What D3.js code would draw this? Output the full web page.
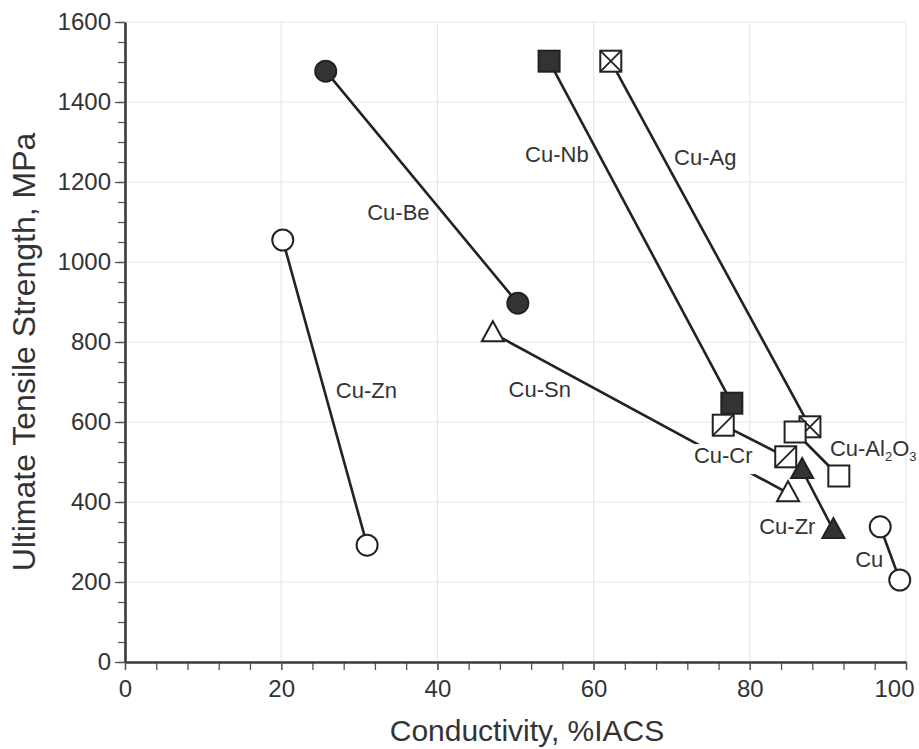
<!DOCTYPE html>
<html>
<head>
<meta charset="utf-8">
<script src="https://cdn.jsdelivr.net/npm/d3@7"></script>
<style>
	body { margin: 0; background: #fff; }
	text { font-family: "Liberation Sans", Arial, sans-serif; fill: #333; }
</style>
</head>
<body>
<div id="wrapper"></div>
<script>
// values
const alloys = ["Cu-Zn", "Cu-Be", "Cu-Sn", "Cu-Nb", "Cu-Ag", "Cu-Cr", "Cu-Al2O3", "Cu-Zr", "Cu"];
const conductivity = [[20.2, 31.0], [25.7, 50.3], [47.1, 84.9], [54.3, 77.7], [62.2, 87.7], [76.6, 84.6], [85.8, 91.4], [86.7, 90.7], [96.7, 99.2]];
const strength = [[1055, 292], [1477, 897], [822, 422], [1502, 647], [1502, 588], [592, 513], [575, 465], [480, 330], [338, 205]];
const xTicks = [0, 20, 40, 60, 80, 100];
const yTicks = [0, 200, 400, 600, 800, 1000, 1200, 1400, 1600];

// marker style and label anchor (data units) per alloy
const markerOf = {
	"Cu-Zn": "circleOpen", "Cu-Be": "circleFilled", "Cu-Sn": "triOpen",
	"Cu-Nb": "squareFilled", "Cu-Ag": "squareCross", "Cu-Cr": "squareSlash",
	"Cu-Al2O3": "squareOpen", "Cu-Zr": "triFilled", "Cu": "circleOpen"
};
const labelAt = {
	"Cu-Zn": [30.9, 680], "Cu-Be": [35.0, 1125], "Cu-Sn": [53.1, 683],
	"Cu-Nb": [55.3, 1270], "Cu-Ag": [74.3, 1262], "Cu-Cr": [76.6, 517],
	"Cu-Al2O3": [95.8, 536], "Cu-Zr": [84.8, 340], "Cu": [95.3, 258]
};

let dimensions = {
	width: 919,
	height: 749,
	margin: { top: 22, right: 13, bottom: 87, left: 125 }
};
dimensions.boundedWidth = dimensions.width - dimensions.margin.left - dimensions.margin.right;
dimensions.boundedHeight = dimensions.height - dimensions.margin.top - dimensions.margin.bottom;

const svg = d3.select("#wrapper").append("svg")
	.attr("width", dimensions.width)
	.attr("height", dimensions.height);

const bounds = svg.append("g")
	.attr("transform", `translate(${dimensions.margin.left},${dimensions.margin.top})`);

const xScale = d3.scaleLinear().domain([0, 100]).range([0, dimensions.boundedWidth]);
const yScale = d3.scaleLinear().domain([0, 1600]).range([dimensions.boundedHeight, 0]);

// grid
bounds.append("g").selectAll("line").data(xTicks.slice(1)).join("line")
	.attr("x1", d => xScale(d)).attr("x2", d => xScale(d))
	.attr("y1", 0).attr("y2", dimensions.boundedHeight)
	.attr("stroke", "#e6e6e6").attr("stroke-width", 1.2);
bounds.append("g").selectAll("line").data(yTicks.slice(1)).join("line")
	.attr("y1", d => yScale(d)).attr("y2", d => yScale(d))
	.attr("x1", 0).attr("x2", dimensions.boundedWidth)
	.attr("stroke", "#e6e6e6").attr("stroke-width", 1.2);

// axes: minor ticks, then major ticks with labels
const xMinor = d3.range(0, 101, 4);
const yMinor = d3.range(0, 1601, 50);

bounds.append("g")
	.attr("transform", `translate(0,${dimensions.boundedHeight})`)
	.call(d3.axisBottom(xScale).tickValues(xMinor).tickSize(8).tickFormat(""))
	.call(g => g.select(".domain").remove())
	.selectAll("line").attr("stroke", "#555").attr("stroke-width", 1.3);
bounds.append("g")
	.call(d3.axisLeft(yScale).tickValues(yMinor).tickSize(7).tickFormat(""))
	.call(g => g.select(".domain").remove())
	.selectAll("line").attr("stroke", "#555").attr("stroke-width", 1.3);

const xAxis = bounds.append("g")
	.attr("transform", `translate(0,${dimensions.boundedHeight})`)
	.call(d3.axisBottom(xScale).tickValues(xTicks).tickFormat(d3.format("d")).tickSize(8).tickSizeOuter(0).tickPadding(10));
const yAxis = bounds.append("g")
	.call(d3.axisLeft(yScale).tickValues(yTicks).tickFormat(d3.format("d")).tickSize(10).tickSizeOuter(0).tickPadding(4));

[xAxis, yAxis].forEach(ax => {
	ax.select(".domain").attr("stroke", "#3a3a3a").attr("stroke-width", 2.6);
	ax.selectAll(".tick line").attr("stroke", "#555").attr("stroke-width", 1.3);
	ax.selectAll(".tick text").attr("font-size", 24).attr("font-family", "Liberation Sans, Arial, sans-serif").attr("fill", "#333");
});
// last x label is pulled inside the window, as in the original
xAxis.selectAll(".tick text").filter(d => d === 100)
	.attr("text-anchor", "end").attr("x", 8);

// axis titles
svg.append("text")
	.attr("x", 527).attr("y", 741)
	.attr("text-anchor", "middle")
	.attr("font-size", 30)
	.text("Conductivity, %IACS");
svg.append("text")
	.attr("transform", "translate(35,352) rotate(-90)")
	.attr("text-anchor", "middle")
	.attr("font-size", 32)
	.text("Ultimate Tensile Strength, MPa");

// connecting lines
const lineGenerator = d3.line()
	.x(d => xScale(d[0]))
	.y(d => yScale(d[1]));

const series = alloys.map((name, i) => ({
	name: name,
	points: conductivity[i].map((c, j) => [c, strength[i][j]])
}));

bounds.append("g").selectAll("path").data(series).join("path")
	.attr("d", d => lineGenerator(d.points))
	.attr("fill", "none")
	.attr("stroke", "#222")
	.attr("stroke-width", 2.6);

// labels; Cu-Cr sits on the Cu-Sn line and gets a white box
const labels = bounds.append("g").selectAll("g").data(series).join("g")
	.attr("transform", d => `translate(${xScale(labelAt[d.name][0])},${yScale(labelAt[d.name][1])})`);

labels.each(function(d) {
	const g = d3.select(this);
	const t = g.append("text")
		.attr("text-anchor", "middle")
		.attr("dy", "0.36em")
		.attr("font-size", 22);
	if (d.name === "Cu-Al2O3") {
		t.append("tspan").text("Cu-Al");
		t.append("tspan").attr("font-size", 13).attr("dy", 5).text("2");
		t.append("tspan").attr("font-size", 22).attr("dy", -5).text("O");
		t.append("tspan").attr("font-size", 13).attr("dy", 5).text("3");
	} else {
		t.text(d.name);
	}
	if (d.name === "Cu-Cr") {
		const b = t.node().getBBox();
		g.insert("rect", "text")
			.attr("x", b.x - 2).attr("y", b.y + 1)
			.attr("width", b.width + 4).attr("height", b.height + 5)
			.attr("fill", "#fff");
	}
});

// markers
const dark = "#333";
function drawMarker(g, type) {
	const s = 10.5;
	if (type.startsWith("circle")) {
		g.append("circle").attr("r", 10.5)
			.attr("fill", type === "circleFilled" ? dark : "#fff")
			.attr("stroke", "#222").attr("stroke-width", 2);
	} else if (type.startsWith("square")) {
		g.append("rect").attr("x", -s).attr("y", -s).attr("width", 2 * s).attr("height", 2 * s)
			.attr("fill", type === "squareFilled" ? dark : "#fff")
			.attr("stroke", "#222").attr("stroke-width", 2);
		if (type === "squareCross") {
			g.append("path").attr("d", `M${-s},${-s}L${s},${s}M${s},${-s}L${-s},${s}`)
				.attr("stroke", "#222").attr("stroke-width", 1.8);
		}
		if (type === "squareSlash") {
			g.append("path").attr("d", `M${-s},${s}L${s},${-s}`)
				.attr("stroke", "#222").attr("stroke-width", 1.8);
		}
	} else {
		const w = 22, h = 20;
		g.append("path").attr("d", `M0,${-h * 0.6}L${w / 2},${h * 0.4}L${-w / 2},${h * 0.4}Z`)
			.attr("fill", type === "triFilled" ? dark : "#fff")
			.attr("stroke", "#222").attr("stroke-width", 2).attr("stroke-linejoin", "miter");
	}
}

const markerData = series.flatMap(d => d.points.map(p => ({ name: d.name, p: p })));
bounds.append("g").selectAll("g").data(markerData).join("g")
	.attr("transform", d => `translate(${xScale(d.p[0])},${yScale(d.p[1])})`)
	.each(function(d) { drawMarker(d3.select(this), markerOf[d.name]); });
</script>
</body>
</html>
